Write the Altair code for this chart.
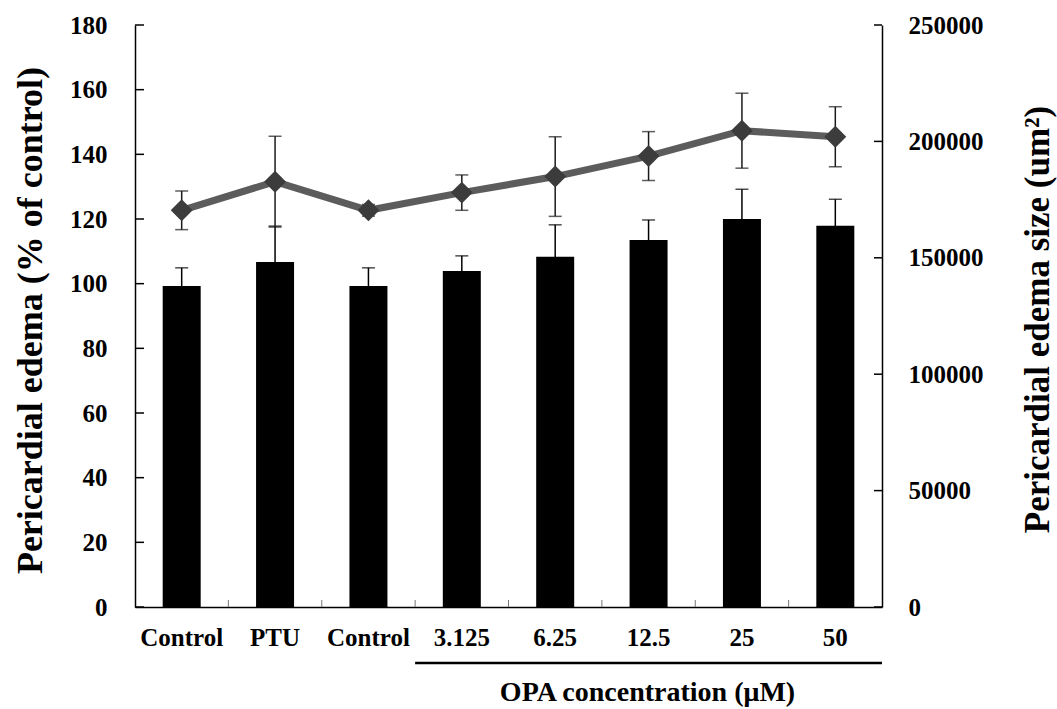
import json
import altair as alt
import pandas as pd

categories = ["Control", "PTU", "Control", "3.125", "6.25", "12.5", "25", "50"]
bar_pct = [99.3, 106.7, 99.3, 103.9, 108.3, 113.5, 120.0, 117.9]
bar_err = [5.6, 11.1, 5.6, 4.7, 9.9, 6.2, 9.2, 8.2]
size_um2 = [170400, 182700, 170400, 178000, 184900, 193700, 204600, 202000]
size_err = [8300, 19500, 2500, 7600, 17100, 10500, 16100, 12900]
left_ticks = [0, 20, 40, 60, 80, 100, 120, 140, 160, 180]
right_ticks = [0, 50000, 100000, 150000, 200000, 250000]
opa_span = [3, 7]  # first and last index of OPA groups

W, H = 747, 582
FONT = "Liberation Serif"

df = pd.DataFrame({
    "idx": list(range(len(categories))),
    "bar": bar_pct,
    "bar_lo": [v - e for v, e in zip(bar_pct, bar_err)],
    "bar_hi": [v + e for v, e in zip(bar_pct, bar_err)],
    "size": size_um2,
    "size_lo": [v - e for v, e in zip(size_um2, size_err)],
    "size_hi": [v + e for v, e in zip(size_um2, size_err)],
})
bounds = pd.DataFrame({"idx": list(range(1, len(categories)))})
lt = pd.DataFrame({"v": left_ticks})
rt = pd.DataFrame({"v": right_ticks})
under = pd.DataFrame({"idx": [opa_span[0]], "idx_end": [opa_span[1]]})

xscale = alt.Scale(paddingInner=0, paddingOuter=0)
xaxis = alt.Axis(
    labelExpr=f"{json.dumps(categories)}[datum.value]",
    labelAngle=0, tickSize=0, labelPadding=18,
    labelFont=FONT, labelFontWeight="bold", labelFontSize=25, labelColor="black",
    domainColor="black", domainWidth=1.5,
    title="OPA concentration (μM)", titleFont=FONT, titleFontWeight="bold",
    titleFontSize=28, titleColor="black", titleX=512, titleY=85,
    titleBaseline="middle", titleAlign="center", titleAnchor="start",
)
X = alt.X("idx:O", scale=xscale, axis=xaxis)

lscale = alt.Scale(domain=[0, 180], nice=False)
laxis = alt.Axis(
    values=left_ticks, tickSize=0, labelPadding=28, grid=False,
    labelFont=FONT, labelFontWeight="bold", labelFontSize=25, labelColor="black",
    domainColor="black", domainWidth=1.5,
    title="Pericardial edema (% of control)", titleFont=FONT, titleFontWeight="bold",
    titleFontSize=36, titleColor="black", titleX=-105, titleY=295, titleAngle=270,
    titleBaseline="middle", titleAlign="center", titleAnchor="start",
)
rscale = alt.Scale(domain=[0, 250000], nice=False)
raxis = alt.Axis(
    orient="right", values=right_ticks, tickSize=0, labelPadding=26, grid=False,
    format="d",
    labelFont=FONT, labelFontWeight="bold", labelFontSize=25, labelColor="black",
    domainColor="black", domainWidth=1.5,
    title="Pericardial edema size (um²)", titleFont=FONT, titleFontWeight="bold",
    titleFontSize=35, titleColor="black", titleX=155, titleY=294, titleAngle=270,
    titleBaseline="middle", titleAlign="center", titleAnchor="start",
)

base = alt.Chart(df)
bars = base.mark_bar(size=38, color="black").encode(
    x=X, y=alt.Y("bar:Q", scale=lscale, axis=laxis))
bar_rule = base.mark_rule(color="black", strokeWidth=1.5).encode(
    x=X, y=alt.Y("bar_lo:Q", scale=lscale, axis=laxis), y2="bar_hi:Q")
bar_cap = base.mark_tick(color="black", size=13, thickness=1.5).encode(
    x=X, y=alt.Y("bar_hi:Q", scale=lscale, axis=laxis))
lticks = alt.Chart(lt).mark_rule(color="black", strokeWidth=1.5).encode(
    y=alt.Y("v:Q", scale=lscale, axis=laxis), x=alt.value(0), x2=alt.value(9))
xticks = alt.Chart(bounds).mark_rule(color="#777777", strokeWidth=1).encode(
    x=alt.X("idx:O", bandPosition=0, scale=xscale, axis=xaxis),
    y=alt.value(H), y2=alt.value(H - 7))
underline = alt.Chart(under).mark_rule(color="black", strokeWidth=2.5).encode(
    x=alt.X("idx:O", bandPosition=0, scale=xscale, axis=xaxis),
    x2=alt.X2("idx_end", bandPosition=1),
    y=alt.value(H + 56))

left = alt.layer(bars, bar_rule, bar_cap, lticks, xticks, underline)

line_rule = base.mark_rule(color="#1a1a1a", strokeWidth=1.5).encode(
    x=X, y=alt.Y("size_lo:Q", scale=rscale, axis=raxis), y2="size_hi:Q")
line_cap_hi = base.mark_tick(color="#1a1a1a", size=13, thickness=1.5).encode(
    x=X, y=alt.Y("size_hi:Q", scale=rscale, axis=raxis))
line_cap_lo = base.mark_tick(color="#1a1a1a", size=13, thickness=1.5).encode(
    x=X, y=alt.Y("size_lo:Q", scale=rscale, axis=raxis))
line = base.mark_line(color="#5c5c5c", strokeWidth=7).encode(
    x=X, y=alt.Y("size:Q", scale=rscale, axis=raxis))
pts = base.mark_point(shape="diamond", filled=True, size=480, color="#3c3c3c", opacity=1).encode(
    x=X, y=alt.Y("size:Q", scale=rscale, axis=raxis))
rticks = alt.Chart(rt).mark_rule(color="black", strokeWidth=1.5).encode(
    y=alt.Y("v:Q", scale=rscale, axis=raxis), x=alt.value(W), x2=alt.value(W - 8))

right = alt.layer(line_rule, line_cap_hi, line_cap_lo, line, pts, rticks)

chart = alt.layer(left, right).resolve_scale(y="independent").properties(
    width=W, height=H,
    autosize=alt.AutoSizeParams(type="none"),
    padding={"left": 135, "top": 25, "right": 175, "bottom": 102},
    background="white",
).configure_view(stroke=None)

chart.save("out.html", embed_options={"renderer": "svg", "actions": False})
